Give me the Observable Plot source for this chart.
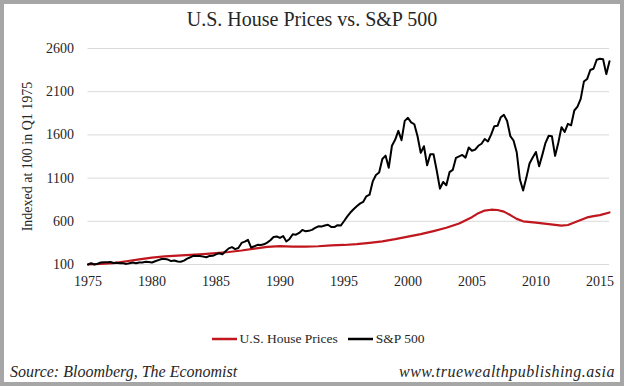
<!DOCTYPE html>
<html>
<head>
<meta charset="utf-8">
<script src="https://cdn.jsdelivr.net/npm/d3@7"></script>
<script src="https://cdn.jsdelivr.net/npm/@observablehq/plot@0.6"></script>
<style>
  html, body { margin: 0; padding: 0; background: #fff; }
  #frame { position: relative; width: 624px; height: 386px; background: #a6a6a6; box-sizing: border-box; }
  #inner { position: absolute; left: 4px; top: 4px; width: 616px; height: 378px; background: #fff; overflow: hidden; }
  .serif { font-family: "Liberation Serif", "DejaVu Serif", serif; color: #262626; }
  #title { position: absolute; left: 0; width: 616px; top: 4px; text-align: center; font-size: 20px; }
  #chart { position: absolute; left: 0; top: 0; }
  #legend { position: absolute; left: 12px; width: 604px; top: 326px; text-align: center; font-size: 13.5px; white-space: nowrap; }
  #legend span.item { display: inline-flex; align-items: center; margin: 0 5px; }
  #legend svg { margin-right: 3px; }
  #source { position: absolute; left: 6px; top: 359px; font-size: 16px; font-style: italic; }
  #site { position: absolute; right: 5px; top: 359px; font-size: 16px; font-style: italic; letter-spacing: 0.5px; }
</style>
</head>
<body>
<div id="frame"><div id="inner">
  <div id="title" class="serif">U.S. House Prices vs. S&amp;P 500</div>
  <div id="chart"></div>
  <div id="legend" class="serif"></div>
  <div id="source" class="serif">Source: Bloomberg, The Economist</div>
  <div id="site" class="serif">www.truewealthpublishing.asia</div>
</div></div>
<script>
// ---- Data (indexed at 100 in Q1 1975) ----
const seriesNames = ["U.S. House Prices", "S&P 500"];
const seriesColors = ["#c0161d", "#000000"];

// S&P 500, quarterly, Q1 1975 .. Q4 2015
const spFirstYear = 1975;
const spIndex = [
  100.0, 114.2, 100.6, 108.2,   // 1975
  123.3, 125.1, 126.2, 128.9,   // 1976
  118.1, 120.5, 115.8, 114.1,   // 1977
  107.0, 114.6, 123.0, 115.3,   // 1978
  121.9, 123.5, 131.1, 129.5,   // 1979
  122.5, 137.0, 150.5, 162.9,   // 1980
  163.1, 157.4, 139.4, 147.0,   // 1981
  134.3, 131.5, 144.5, 168.7,   // 1982
  183.5, 201.7, 199.2, 197.9,   // 1983
  191.0, 183.8, 199.3, 200.6,   // 1984
  216.7, 230.1, 218.4, 253.5,   // 1985
  286.6, 300.9, 277.5, 290.5,   // 1986
  349.9, 364.7, 386.1, 296.4,   // 1987
  310.6, 328.1, 326.2, 333.2,   // 1988
  353.7, 381.5, 418.8, 423.9,   // 1989
  407.8, 429.5, 367.1, 396.1,   // 1990
  450.1, 445.2, 465.3, 500.3,   // 1991
  484.3, 489.6, 501.2, 522.7,   // 1992
  541.8, 540.5, 550.5, 559.6,   // 1993
  534.8, 533.0, 555.0, 550.9,   // 1994
  600.7, 653.5, 701.1, 738.9,   // 1995
  774.4, 804.5, 824.5, 888.6,   // 1996
  908.3, 1061.8, 1136.4, 1164.1, // 1997
  1321.7, 1360.2, 1220.0, 1474.6, // 1998
  1543.1, 1646.7, 1538.8, 1762.5, // 1999
  1797.7, 1745.0, 1723.3, 1583.8, // 2000
  1392.0, 1468.8, 1248.7, 1377.2, // 2001
  1376.4, 1187.4, 978.0, 1055.5,  // 2002
  1017.5, 1169.0, 1194.8, 1333.9, // 2003
  1351.0, 1368.6, 1337.1, 1453.8, // 2004
  1416.3, 1429.1, 1474.1, 1497.5, // 2005
  1553.3, 1523.8, 1602.5, 1701.4, // 2006
  1704.5, 1803.4, 1831.5, 1761.5, // 2007
  1586.8, 1535.5, 1399.2, 1083.6, // 2008
  957.1, 1102.8, 1268.1, 1337.7,  // 2009
  1402.9, 1236.5, 1369.0, 1508.7, // 2010
  1590.5, 1584.3, 1357.3, 1508.6, // 2011
  1689.6, 1634.1, 1728.3, 1710.9, // 2012
  1882.4, 1926.9, 2017.2, 2217.3, // 2013
  2246.1, 2351.5, 2366.0, 2469.9, // 2014
  2480.7, 2474.9, 2303.3, 2451.9  // 2015
];

// U.S. house prices (smooth series, read at these dates)
const houseDates = [
  1975, 1976, 1977, 1978, 1979, 1980, 1981, 1982, 1983, 1984,
  1985, 1986, 1987, 1988, 1989, 1990, 1991, 1992, 1993, 1994,
  1995, 1996, 1997, 1998, 1999, 2000, 2001, 2002, 2003, 2004,
  2005, 2005.5, 2006, 2006.5, 2007, 2007.5, 2008, 2008.5, 2009, 2010,
  2011, 2012, 2012.5, 2013, 2014, 2014.5, 2015, 2015.75
];
const houseIndex = [
  100, 106, 116, 138, 160, 180, 194, 203, 211, 221,
  232, 245, 262, 283, 303, 312, 308, 307, 311, 321,
  326, 335, 350, 368, 393, 422, 452, 487, 525, 575,
  648, 694, 724, 734, 731, 712, 672, 628, 600, 585,
  568, 551, 557, 585, 645, 660, 672, 702
];

const xTicks = [1975, 1980, 1985, 1990, 1995, 2000, 2005, 2010, 2015];
const yTicks = [100, 600, 1100, 1600, 2100, 2600];
const yLabel = "Indexed at 100 in Q1 1975";

// ---- Build tables ----
const sp = spIndex.map((v, i) => ({date: spFirstYear + i / 4, value: v, series: seriesNames[1]}));
const house = houseIndex.map((v, i) => ({date: houseDates[i], value: v, series: seriesNames[0]}));

const chart = Plot.plot({
  width: 616,
  height: 300,
  marginTop: 44,
  marginBottom: 40,
  marginLeft: 83.5,
  marginRight: 11,
  style: {fontFamily: "'Liberation Serif', 'DejaVu Serif', serif", fontSize: "14px", color: "#262626", background: "transparent"},
  x: {domain: [1975, 2015.75], ticks: xTicks, tickFormat: d => String(d), tickSize: 0, tickPadding: 12, label: null},
  y: {domain: [100, 2600], ticks: yTicks, tickFormat: d => String(d), tickSize: 0, tickPadding: 14,
      label: yLabel, labelAnchor: "center", labelArrow: "none", labelOffset: 66},
  marks: [
    Plot.gridY(yTicks, {stroke: "#d9d9d9", strokeOpacity: 1, strokeWidth: 1}),
    Plot.axisY({ticks: yTicks, tickFormat: d => String(d), tickSize: 0, tickPadding: 14,
      label: yLabel, labelAnchor: "center", labelArrow: "none", labelOffset: 66, fontSize: 14}),
    Plot.axisX({ticks: xTicks, tickFormat: d => String(d), tickSize: 0, tickPadding: 12, label: null, fontSize: 14}),
    Plot.line(house, {x: "date", y: "value", stroke: seriesColors[0], strokeWidth: 2.2, strokeLinejoin: "round"}),
    Plot.line(sp, {x: "date", y: "value", stroke: seriesColors[1], strokeWidth: 2, strokeLinejoin: "round"})
  ]
});
document.getElementById("chart").appendChild(chart);

// ---- Legend ----
const legend = document.getElementById("legend");
seriesNames.forEach((name, i) => {
  const item = document.createElement("span");
  item.className = "item";
  item.innerHTML = `<svg width="25" height="6"><line x1="0" x2="25" y1="3" y2="3" stroke="${seriesColors[i]}" stroke-width="2.5"/></svg>`;
  item.appendChild(document.createTextNode(name));
  legend.appendChild(item);
});
</script>
</body>
</html>
